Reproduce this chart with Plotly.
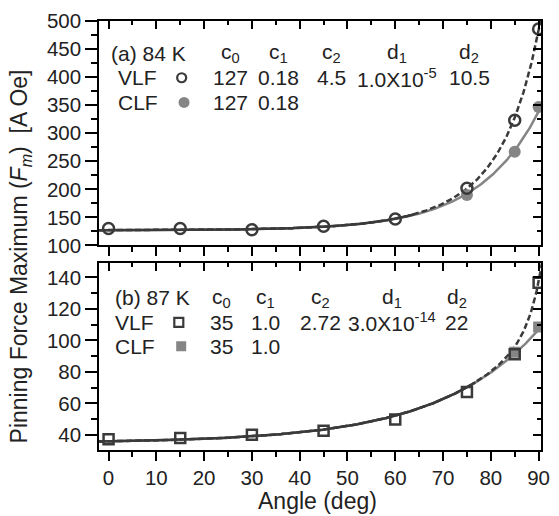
import numpy as np
import plotly.graph_objects as go

# measured pinning-force maxima vs field angle
angle = [0, 15, 30, 45, 60, 75, 85, 90]
vlf_84K = [130, 130, 128, 134, 147, 202, 323, 486]
clf_84K = [None, None, None, None, None, 190, 267, 347]
vlf_87K = [37.3, 38.1, 40.2, 42.7, 49.9, 67.3, 91.2, 136.5]
clf_87K = [None, None, None, None, None, None, 92.5, 108.5]

# fit parameters: F = c0 + c1*exp(c2*theta) [+ d1*exp(d2*theta)], theta in rad
c0_84, c1_84, c2_84, d1_84, d2_84 = 127, 0.18, 4.5, 1.0e-5, 10.5
c0_87, c1_87, c2_87, d1_87, d2_87 = 35, 1.0, 2.72, 3.0e-14, 22

# parameter strings shown in the panel tables
txt_84 = ["127", "0.18", "4.5", "1.0X10<sup>-5</sup>", "10.5"]
txt_87 = ["35", "1.0", "2.72", "3.0X10<sup>-14</sup>", "22"]

DARK = "#3a3a3a"
GRAY = "#858585"
FONT = "Liberation Sans, Arial, sans-serif"

theta = np.linspace(-2, 91, 400)
rad = np.radians(theta)


def clf_fit(c0, c1, c2):
    return c0 + c1 * np.exp(c2 * rad)


def vlf_fit(c0, c1, c2, d1, d2):
    return clf_fit(c0, c1, c2) + d1 * np.exp(d2 * rad)


fig = go.Figure()


def add_panel(xa, ya, clf_curve, vlf_curve, vlf, clf, symbol, msize, merge_end):
    fig.add_trace(go.Scatter(x=theta, y=clf_curve, mode="lines", xaxis=xa, yaxis=ya,
                             line=dict(color=GRAY, width=2.5), showlegend=False))
    fig.add_trace(go.Scatter(x=theta, y=vlf_curve, mode="lines", xaxis=xa, yaxis=ya,
                             line=dict(color=DARK, width=2.5, dash="6px,3px"), showlegend=False))
    # where the two fits coincide they read as one solid dark curve
    m = theta <= merge_end
    fig.add_trace(go.Scatter(x=theta[m], y=vlf_curve[m], mode="lines", xaxis=xa, yaxis=ya,
                             line=dict(color=DARK, width=2.5), showlegend=False))
    fig.add_trace(go.Scatter(x=angle, y=clf, mode="markers", xaxis=xa, yaxis=ya,
                             marker=dict(symbol=symbol, size=msize + 1, color=GRAY,
                                         line=dict(width=0)), showlegend=False))
    fig.add_trace(go.Scatter(x=angle, y=vlf, mode="markers", xaxis=xa, yaxis=ya,
                             marker=dict(symbol=symbol + "-open", size=msize, color=DARK,
                                         line=dict(width=2.5, color=DARK)), showlegend=False))


add_panel("x", "y", clf_fit(c0_84, c1_84, c2_84),
          vlf_fit(c0_84, c1_84, c2_84, d1_84, d2_84), vlf_84K, clf_84K, "circle", 11, 64)
add_panel("x2", "y2", clf_fit(c0_87, c1_87, c2_87),
          vlf_fit(c0_87, c1_87, c2_87, d1_87, d2_87), vlf_87K, clf_87K, "square", 10, 77)

# empty traces so the mirrored frame axes get drawn
for xa, ya in (("x3", "y3"), ("x4", "y4")):
    fig.add_trace(go.Scatter(x=[None], y=[None], xaxis=xa, yaxis=ya,
                             showlegend=False, hoverinfo="skip"))

XR = [-2, 90.5]
Y1R = [99.8, 500.2]
Y2R = [30.5, 149]
top_dom = [0.4767, 1.0]
bot_dom = [0.0, 0.4356]

base = dict(showline=True, linecolor="black", linewidth=1.6, tickcolor="black",
            tickwidth=1.6, showgrid=False, zeroline=False, tickmode="linear",
            ticklabeloverflow="allow",
            tickfont=dict(family=FONT, size=20.5, color="#222"))


def minor(d, side, ln):
    return dict(dtick=d, ticks=side, ticklen=ln, tickcolor="black", tickwidth=1.6)


def xax(**kw):
    d = dict(base, range=XR, tick0=0, dtick=10)
    d.update(kw)
    return d


fig.update_layout(
    width=559, height=516,
    margin=dict(l=99, r=9, t=20, b=66),
    paper_bgcolor="white", plot_bgcolor="white",
    font=dict(family=FONT, color="#222"),
    xaxis=xax(anchor="y", ticks="outside", ticklen=9, showticklabels=False,
              minor=minor(5, "outside", 5)),
    xaxis2=xax(anchor="y2", ticks="outside", ticklen=9, showticklabels=True,
               minor=minor(5, "outside", 5)),
    xaxis3=xax(overlaying="x", side="top", anchor="y", ticks="inside", ticklen=8,
               showticklabels=False, minor=minor(5, "inside", 4)),
    xaxis4=xax(overlaying="x2", side="top", anchor="y2", ticks="inside", ticklen=8,
               showticklabels=False, minor=minor(5, "inside", 4)),
    yaxis=dict(base, domain=top_dom, anchor="x", range=Y1R, tick0=0, dtick=50,
               ticks="outside", ticklen=12, minor=minor(25, "outside", 6)),
    yaxis2=dict(base, domain=bot_dom, anchor="x2", range=Y2R, tick0=0, dtick=20,
                ticks="outside", ticklen=12, minor=minor(10, "outside", 6)),
    yaxis3=dict(base, overlaying="y", side="right", anchor="x", range=Y1R, tick0=0, dtick=50,
                ticks="inside", ticklen=8, showticklabels=False, minor=minor(25, "inside", 4)),
    yaxis4=dict(base, overlaying="y2", side="right", anchor="x2", range=Y2R, tick0=0, dtick=20,
                ticks="inside", ticklen=8, showticklabels=False, minor=minor(10, "inside", 4)),
)

ann = []
TF = dict(family=FONT, size=21, color="#222")


def text(x, y, s, xa, ya, xanchor="center"):
    ann.append(dict(x=x, y=y, xref=xa, yref=ya, text=s, showarrow=False,
                    xanchor=xanchor, yanchor="middle", font=TF))


# panel (a) table
ra = [443, 399, 355]
text(0.0, ra[0], "(a) 84 K", "x", "y", "left")
text(1.6, ra[1], "VLF", "x", "y", "left")
text(1.6, ra[2], "CLF", "x", "y", "left")
cols_a = [25.5, 35.6, 46.6, 60.3, 75.5]
heads = ["c<sub>0</sub>", "c<sub>1</sub>", "c<sub>2</sub>", "d<sub>1</sub>", "d<sub>2</sub>"]
for cx, h, v in zip(cols_a, heads, txt_84):
    text(cx, ra[0], h, "x", "y")
    text(cx, ra[1], v, "x", "y")
for cx, v in zip(cols_a[:2], txt_84[:2]):
    text(cx, ra[2], v, "x", "y")

# panel (b) table
rb = [126.9, 111.4, 96.3]
text(1.0, rb[0], "(b) 87 K", "x2", "y2", "left")
text(1.0, rb[1], "VLF", "x2", "y2", "left")
text(1.0, rb[2], "CLF", "x2", "y2", "left")
cols_b = [23.6, 32.8, 44.4, 59.3, 72.9]
for cx, h, v in zip(cols_b, heads, txt_87):
    text(cx, rb[0], h, "x2", "y2")
    text(cx, rb[1], v, "x2", "y2")
for cx, v in zip(cols_b[:2], txt_87[:2]):
    text(cx, rb[2], v, "x2", "y2")

# axis titles
ann.append(dict(x=0.494, y=-0.118, xref="paper", yref="paper", text="Angle (deg)",
                showarrow=False, xanchor="center", yanchor="middle",
                font=dict(family=FONT, size=23, color="#222")))
ann.append(dict(x=-0.178, y=0.452, xref="paper", yref="paper", textangle=-90,
                text="Pinning Force Maximum (<i>F</i><sub><i>m</i></sub>)  [A Oe]",
                showarrow=False, xanchor="center", yanchor="middle",
                font=dict(family=FONT, size=23, color="#222")))
fig.update_layout(annotations=ann)

# key symbols next to VLF / CLF labels
shapes = []


def key(x, y, xa, ya, kind, filled, r):
    s = dict(type=kind, xref=xa, yref=ya, xsizemode="pixel", ysizemode="pixel",
             xanchor=x, yanchor=y, x0=-r, x1=r, y0=-r, y1=r)
    if filled:
        s.update(fillcolor=GRAY, line=dict(width=0))
    else:
        s.update(fillcolor="rgba(0,0,0,0)", line=dict(color=DARK, width=2.2))
    shapes.append(s)


key(15.3, ra[1], "x", "y", "circle", False, 4.5)
key(15.8, ra[2], "x", "y", "circle", True, 5.5)
key(14.7, rb[1], "x2", "y2", "rect", False, 4.5)
key(15.2, rb[2], "x2", "y2", "rect", True, 5)
fig.update_layout(shapes=shapes)

fig.write_html("out.html")
